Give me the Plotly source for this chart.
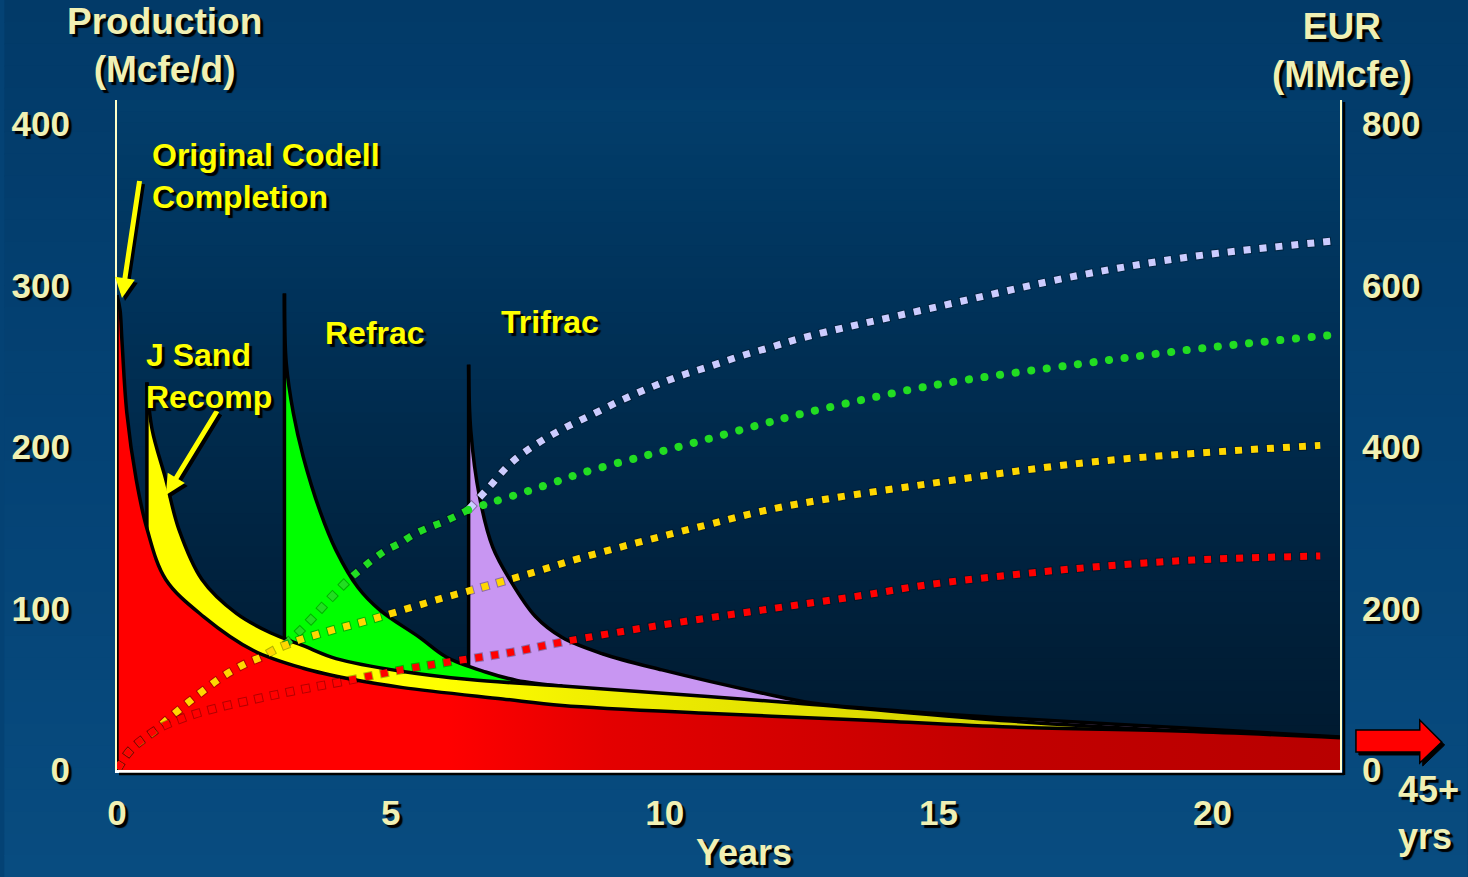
import plotly.graph_objects as go

# ---------------------------------------------------------------
# Production profile (Mcfe/d).  Each layer is the stacked top of
# the cumulative rate once that completion is added; the first
# point of each layer is the foot of its vertical start edge.
# ---------------------------------------------------------------
codell_years = [0, 0, 0.055, 0.09, 0.18, 0.35, 0.55, 0.89, 1.58, 2.49, 3.40,
                4.31, 5.22, 7.04, 8.13, 10.86, 13.59, 16.32, 19.5, 22.33]
codell_rate = [0, 294, 285, 266, 221, 180, 149, 118, 95, 74, 63,
               56, 51, 44, 40, 35, 31, 26.6, 24, 20]

jsand_years = [0.546, 0.546, 0.64, 0.89, 1.13, 1.55, 2.18, 2.80, 3.40, 4.00,
               5.22, 6.44, 8.13, 12.37, 16.32, 19.5, 22.33]
jsand_rate = [149, 240, 211, 180, 149, 118, 97, 85, 77, 69,
              61, 56, 52, 41.5, 30.3, 24, 20]

refrac_years = [3.057, 3.057, 3.09, 3.22, 3.40, 3.71, 4.00, 4.40, 4.80, 5.53,
                6.01, 6.73, 7.3, 8.13]
refrac_rate = [81, 295, 252, 221, 194, 160, 136, 113, 99, 82,
               70, 60.7, 55.5, 52]

trifrac_years = [6.42, 6.42, 6.46, 6.62, 6.86, 7.17, 7.64, 8.13, 8.86, 9.95,
                 11.77, 12.69, 14.5, 16.32, 19.5, 22.33]
trifrac_rate = [65, 251, 210, 169, 138, 118, 95, 82, 72, 62,
                47.7, 41.5, 36, 32, 26, 20.4]

# ---------------------------------------------------------------
# EUR build-up (MMcfe) for each completion scenario
# ---------------------------------------------------------------
eur_codell_years = [0, 0.25, 0.71, 1.26, 1.82, 2.37, 3.22, 4.08, 5.19, 6.08,
                    7.22, 8.13, 9.95, 11.77, 13.59, 14.87, 17.6, 19.65, 21.97]
eur_codell = [0, 25, 49.5, 65.6, 76.8, 85.4, 97.8, 109, 124, 134,
              146, 158.5, 179.6, 198, 216, 230, 250, 260, 265]

eur_jsand_years = [0, 0.25, 0.71, 0.91, 1.18, 1.40, 1.64, 1.89, 2.13, 2.37,
                   2.64, 2.91, 3.17, 3.44, 4.00, 4.55, 5.10, 5.95, 6.81, 7.62,
                   8.46, 10.68, 12.14, 14.87, 17.6, 19.65, 21.97]
eur_jsand = [0, 25, 49.5, 62, 77, 89, 101.5, 114, 124, 132.5,
             140, 150, 157, 163.5, 174.6, 184.5, 195.7, 213, 229, 245,
             262.5, 302, 325.7, 355, 380, 392, 402]

eur_refrac_years = [3.06, 3.26, 3.44, 3.62, 3.82, 4.00, 4.22, 4.44, 4.68, 4.91,
                    5.17, 5.40, 5.68, 5.95, 6.41, 6.82, 7.39, 7.93, 8.50, 9.63,
                    10.74, 11.87, 12.43, 14.87, 17.6, 19.78, 22.2]
eur_refrac = [155, 167, 179, 192, 207, 220, 235, 248, 261, 272,
              281, 291, 300, 307, 322, 331, 343, 355, 368, 389,
              409, 430, 440, 476, 503, 522, 538.7]

eur_trifrac_years = [6.41, 6.79, 7.19, 7.66, 8.17, 8.70, 9.21, 9.75, 10.28,
                     10.83, 11.39, 11.96, 12.50, 14.87, 17.6, 19.65, 22.2]
eur_trifrac = [322, 350, 380, 403.7, 423.5, 441, 458, 474, 488,
               500, 512.7, 524, 535, 572, 613, 636, 655]

rate_ticks = [0, 100, 200, 300, 400]
eur_ticks = [0, 200, 400, 600, 800]
year_ticks = [0, 5, 10, 15, 20]

# ---------------------------------------------------------------
# Page geometry
# ---------------------------------------------------------------
W, H = 1468, 877
ML, MR, MT, MB = 113, 128, 100, 107
PW, PH = W - ML - MR, H - MT - MB
X_MAX = 22.33
Y_MAX = 414.86
Y2_MAX = 2 * Y_MAX


def pxx(x):
    """page pixel x -> paper x"""
    return (x - ML) / PW


def pxy(y):
    """page pixel y -> paper y"""
    return (H - MB - y) / PH


FONT = "Liberation Sans, Arial, Helvetica, sans-serif"
CREAM = "#f0f0b4"
SHADOW = "3px 3px 1px #000000"


def mix(stops, f):
    for (f0, c0), (f1, c1) in zip(stops[:-1], stops[1:]):
        if f0 <= f <= f1:
            t = (f - f0) / (f1 - f0) if f1 > f0 else 0
            c = [round(a + (b - a) * t) for a, b in zip(c0, c1)]
            return "rgb(%d,%d,%d)" % tuple(c)
    return "rgb(%d,%d,%d)" % tuple(stops[-1][1])


shapes = []

# slide background gradient
page_stops = [(0.0, (2, 58, 104)), (0.5, (4, 66, 116)), (1.0, (8, 76, 128))]
n = 40
for i in range(n):
    ya, yb = i * H / n, (i + 1) * H / n + 1
    shapes.append(dict(type="rect", xref="paper", yref="paper",
                       x0=pxx(0), x1=pxx(W), y0=pxy(yb), y1=pxy(ya),
                       fillcolor=mix(page_stops, (i + 0.5) / n),
                       line=dict(width=0), layer="below"))

# plot-area gradient
plot_stops = [(0.0, (2, 62, 108)), (0.35, (0, 48, 86)), (0.7, (0, 34, 62)),
              (1.0, (0, 25, 46))]
n = 60
for i in range(n):
    ya, yb = MT + i * PH / n, MT + (i + 1) * PH / n + 1
    shapes.append(dict(type="rect", xref="paper", yref="paper",
                       x0=0, x1=1, y0=max(pxy(yb), 0), y1=pxy(ya),
                       fillcolor=mix(plot_stops, (i + 0.5) / n),
                       line=dict(width=0), layer="below"))

# frame shadows
shapes.append(dict(type="line", xref="paper", yref="paper",
                   x0=pxx(ML + 2), x1=pxx(ML + PW + 4), y0=pxy(H - MB + 4), y1=pxy(H - MB + 4),
                   line=dict(color="black", width=2.5)))
shapes.append(dict(type="line", xref="paper", yref="paper",
                   x0=pxx(ML + PW + 4), x1=pxx(ML + PW + 4), y0=pxy(H - MB + 5), y1=pxy(MT + 2),
                   line=dict(color="black", width=2.5)))

# block arrow pointing beyond the last year
arrow_pts = [(1356, 730), (1420, 730), (1420, 720), (1442, 742),
             (1420, 763), (1420, 752), (1356, 752)]


def arrow_path(dx, dy):
    return "M " + " L ".join("%.5f,%.5f" % (pxx(x + dx), pxy(y + dy)) for x, y in arrow_pts) + " Z"


shapes.append(dict(type="path", xref="paper", yref="paper", path=arrow_path(3, 3),
                   fillcolor="black", line=dict(color="black", width=1)))
shapes.append(dict(type="path", xref="paper", yref="paper", path=arrow_path(0, 0),
                   fillcolor="#ff0000", line=dict(color="black", width=1.5)))

fig = go.Figure()

BLACK_EDGE = dict(color="black", width=3.5)


def layer(years, rate, name, **fill):
    """decline area (smooth top) plus the black vertical edge where it starts"""
    fig.add_trace(go.Scatter(x=years[1:], y=rate[1:], mode="lines", line=BLACK_EDGE,
                             line_shape="spline", fill="tozeroy", name=name,
                             hoverinfo="skip", **fill))
    fig.add_trace(go.Scatter(x=years[:2], y=rate[:2], mode="lines", line=BLACK_EDGE,
                             hoverinfo="skip", showlegend=False))


# stacked production areas, highest cumulative first
layer(trifrac_years, trifrac_rate, "Trifrac", fillcolor="#c896f2")
layer(refrac_years, refrac_rate, "Refrac", fillcolor="#00ff00")
layer(jsand_years, jsand_rate, "J Sand Recomp",
      fillgradient=dict(type="horizontal",
                        colorscale=[[0, "#ffff00"], [0.25, "#ffff00"], [0.36, "#f2f000"],
                                    [0.72, "#d4d200"], [1, "#c4c000"]]))
layer(codell_years, codell_rate, "Original Codell",
      fillgradient=dict(type="horizontal",
                        colorscale=[[0, "#ff0000"], [0.27, "#ff0000"], [0.4, "#e40000"],
                                    [0.72, "#c20000"], [1, "#b80000"]]))


def dotted(x, y, color, name):
    """square-dotted EUR line with a faint dark rim around each dot"""
    fig.add_trace(go.Scatter(x=x, y=y, yaxis="y2", mode="lines", line_shape="spline",
                             line=dict(color="rgba(0,0,0,0.3)", width=9, dash="9px,7px"),
                             hoverinfo="skip", showlegend=False))
    fig.add_trace(go.Scatter(x=x, y=y, yaxis="y2", mode="lines", line_shape="spline",
                             line=dict(color=color, width=7, dash="0px,1px,7px,8px"),
                             name=name, hoverinfo="skip"))


dotted(eur_trifrac_years, eur_trifrac, "#ccccff", "EUR Trifrac")

split = eur_refrac_years.index(6.41)
dotted(eur_refrac_years[:split + 1], eur_refrac[:split + 1], "#22dd22", "EUR Refrac")
fig.add_trace(go.Scatter(x=eur_refrac_years[split:], y=eur_refrac[split:], yaxis="y2",
                         mode="lines", line_shape="spline", uid="greenround",
                         line=dict(color="#22dd22", width=8, dash="7px,9px"),
                         hoverinfo="skip", showlegend=False))

dotted(eur_jsand_years, eur_jsand, "#ffd700", "EUR J Sand")
dotted(eur_codell_years, eur_codell, "#ff0000", "EUR Codell")

tickfont = dict(family=FONT, size=35, color=CREAM, weight="bold", shadow=SHADOW)


def label(text, x, y, size=36, color=CREAM, xanchor="center", align="center"):
    return dict(text=text, x=pxx(x), y=pxy(y), xref="paper", yref="paper",
                showarrow=False, xanchor=xanchor, yanchor="middle", align=align,
                font=dict(family=FONT, size=size, color=color, weight="bold",
                          shadow=SHADOW))


def pointer(tip, tail, color, shift=0):
    return dict(text=" ", x=pxx(tip[0] + shift), y=pxy(tip[1] + shift),
                xref="paper", yref="paper", showarrow=True,
                ax=tail[0] - tip[0], ay=tail[1] - tip[1],
                arrowhead=2, arrowsize=0.8, arrowwidth=5, arrowcolor=color,
                standoff=0, startstandoff=0, font=dict(size=2))


annotations = [
    label("Production<br>(Mcfe/d)", 161, 45, size=37),
    label("EUR<br>(MMcfe)", 1342, 50, size=37),
    label("Years", 742, 853),
    label("45+<br>yrs", 1396, 813, xanchor="left", align="left"),
    pointer((118, 298), (136, 178), "black", 3),
    pointer((118, 298), (136, 178), "#ffff00"),
    pointer((162, 495), (215, 408), "black", 3),
    pointer((162, 495), (215, 408), "#ffff00"),
    label("Original Codell<br>Completion", 146, 176, size=32, color="#ffff00",
          xanchor="left", align="left"),
    label("J Sand<br>Recomp", 140, 376, size=32, color="#ffff00",
          xanchor="left", align="left"),
    label("Refrac", 372, 333, size=32, color="#ffff00"),
    label("Trifrac", 547, 322, size=32, color="#ffff00"),
]

fig.update_layout(
    width=W, height=H, autosize=False,
    margin=dict(l=ML, r=MR, t=MT, b=MB, pad=0),
    paper_bgcolor="#044274", plot_bgcolor="rgba(0,0,0,0)",
    showlegend=False,
    shapes=shapes, annotations=annotations,
    xaxis=dict(range=[0, X_MAX], tickvals=year_ticks, showgrid=False, zeroline=False,
               showline=True, linecolor="#ffffff", linewidth=3,
               ticks="outside", ticklen=10, tickcolor="rgba(0,0,0,0)",
               tickfont=tickfont, fixedrange=True),
    yaxis=dict(range=[0, Y_MAX], tickvals=rate_ticks, showgrid=False, zeroline=False,
               showline=True, linecolor="#ffffc8", linewidth=2,
               ticks="outside", ticklen=38, tickcolor="rgba(0,0,0,0)",
               tickfont=tickfont, fixedrange=True),
    yaxis2=dict(range=[0, Y2_MAX], tickvals=eur_ticks, overlaying="y", side="right",
                showgrid=False, zeroline=False,
                showline=True, linecolor="#ffffc8", linewidth=2,
                ticks="outside", ticklen=13, tickcolor="rgba(0,0,0,0)",
                tickfont=tickfont, fixedrange=True),
)

# round dots for the late part of the refrac EUR curve
round_dots = """
(function(){
  var gd = document.getElementById('{plot_id}');
  function roundify(){
    gd.querySelectorAll('.tracegreenround path.js-line').forEach(function(p){
      p.style.strokeLinecap = 'round';
      p.style.strokeDasharray = '0.1px,15.6px';
    });
  }
  roundify();
  if (gd && gd.on) { gd.on('plotly_afterplot', roundify); }
  document.body.style.margin = '0';
})();
"""

fig.write_html("out.html", config={"displayModeBar": False, "staticPlot": True},
               post_script=round_dots)
